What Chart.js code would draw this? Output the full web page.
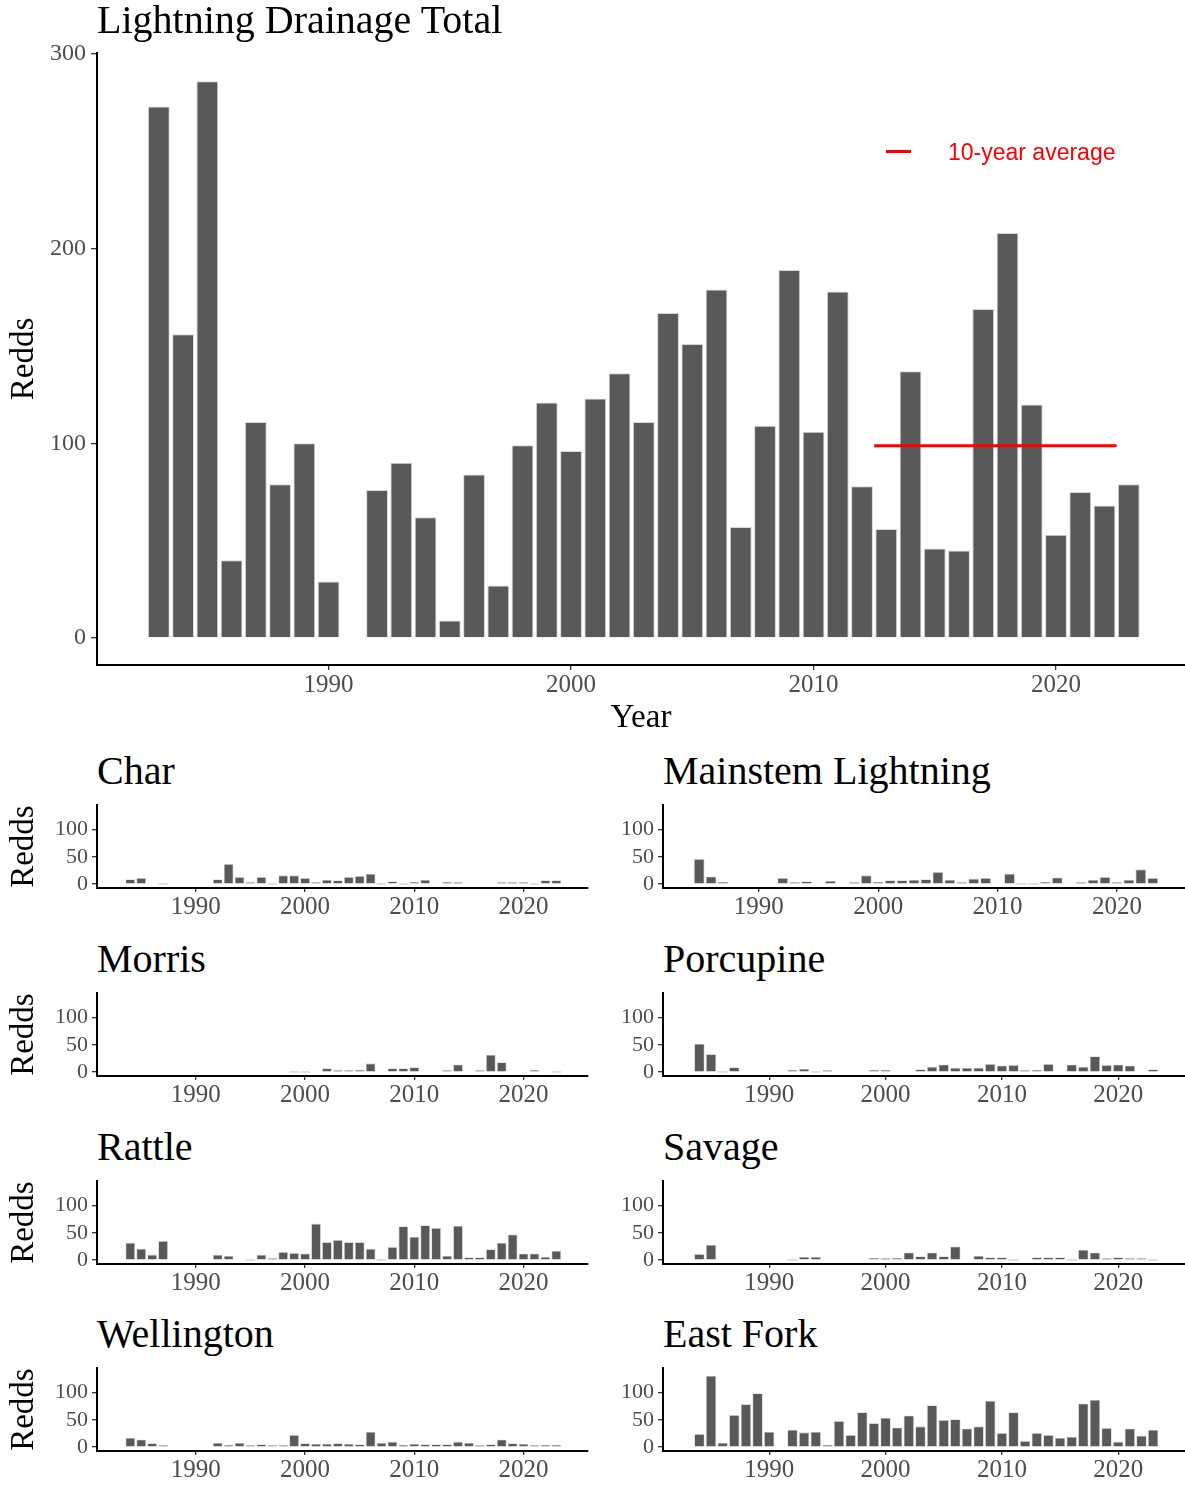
<!DOCTYPE html>
<html>
<head>
<meta charset="utf-8">
<title>Lightning Drainage Redds</title>
<script src="https://cdn.jsdelivr.net/npm/chart.js@4.4.0/dist/chart.umd.min.js"></script>
<style>
  body { margin: 0; background: #fff; }
  #page { position: relative; width: 1185px; height: 1485px; overflow: hidden; background: #fff; }
  canvas { position: absolute; }
  .title {
    position: absolute;
    font-family: 'Liberation Serif', 'Times New Roman', serif;
    font-size: 40px; line-height: 40px; height: 40px;
    color: #000; white-space: nowrap;
  }
  .legend-line { position: absolute; left: 886px; top: 150px; width: 25px; height: 3px; background: #ff0000; }
  .legend-text {
    position: absolute; left: 948px; top: 140.5px;
    font-family: 'Liberation Sans', Arial, sans-serif;
    font-size: 23px; line-height: 23px; color: #ff0000; white-space: nowrap;
  }
</style>
</head>
<body>
<div id="page">
  <canvas id="main" width="1185" height="740" style="left:0;top:0"></canvas>
  <div class="title" style="left:97px;top:0">Lightning Drainage Total</div>
  <div class="legend-line"></div>
  <div class="legend-text">10-year average</div>

  <div class="title" style="left:97px;top:750.5px">Char</div>
  <div class="title" style="left:663px;top:750.5px">Mainstem Lightning</div>
  <div class="title" style="left:97px;top:938.5px">Morris</div>
  <div class="title" style="left:663px;top:938.5px">Porcupine</div>
  <div class="title" style="left:97px;top:1126.5px">Rattle</div>
  <div class="title" style="left:663px;top:1126.5px">Savage</div>
  <div class="title" style="left:97px;top:1313.5px">Wellington</div>
  <div class="title" style="left:663px;top:1313.5px">East Fork</div>

  <canvas id="char" width="590" height="140" style="left:0;top:788px"></canvas>
  <canvas id="mainstem" width="585" height="140" style="left:600px;top:788px"></canvas>
  <canvas id="morris" width="590" height="140" style="left:0;top:976px"></canvas>
  <canvas id="porcupine" width="585" height="140" style="left:600px;top:976px"></canvas>
  <canvas id="rattle" width="590" height="140" style="left:0;top:1164px"></canvas>
  <canvas id="savage" width="585" height="140" style="left:600px;top:1164px"></canvas>
  <canvas id="wellington" width="590" height="140" style="left:0;top:1351px"></canvas>
  <canvas id="eastfork" width="585" height="140" style="left:600px;top:1351px"></canvas>
</div>
<script>
const years = [1983, 1984, 1985, 1986, 1987, 1988, 1989, 1990, 1991, 1992,
               1993, 1994, 1995, 1996, 1997, 1998, 1999, 2000, 2001, 2002,
               2003, 2004, 2005, 2006, 2007, 2008, 2009, 2010, 2011, 2012,
               2013, 2014, 2015, 2016, 2017, 2018, 2019, 2020, 2021, 2022, 2023];

const totalRedds = [273, 156, 286, 40, 111, 79, 100, 29, null, 76,
                    90, 62, 9, 84, 27, 99, 121, 96, 123, 136,
                    111, 167, 151, 179, 57, 109, 189, 106, 178, 78,
                    56, 137, 46, 45, 169, 208, 120, 53, 75, 68, 79];

const charRedds = [null, 9, 11, null, 0, null, null, null, null, 9,
                   37, 13, 2, 13, 0, 16, 16, 11, 2, 8,
                   7, 13, 15, 19, 0, 5, 0, 4, 8, null,
                   4, 2, null, null, null, 3, 2, 2, 0, 7, 7];

const mainstemRedds = [null, null, 46, 14, 4, null, null, null, null, 11,
                       2, 5, null, 6, null, 3, 16, 4, 7, 7,
                       8, 9, 22, 8, 3, 10, 11, null, 19, 0,
                       0, 4, 12, null, 3, 8, 13, 3, 8, 27, 11];

const morrisRedds = [null, null, null, null, null, null, null, null, null, null,
                     null, null, null, null, null, null, 0, 0, null, 7,
                     1, 1, 4, 16, null, 7, 7, 9, null, null,
                     3, 14, null, 3, 32, 18, null, null, 4, null, 0];

const porcupineRedds = [null, 52, 33, 0, 9, null, null, null, null, 4,
                        6, 0, 1, null, null, null, 4, 4, null, null,
                        5, 10, 14, 8, 8, 8, 15, 12, 13, 1,
                        4, 15, null, 14, 10, 29, 13, 14, 12, null, 5];

const rattleRedds = [null, 32, 21, 10, 35, null, null, null, null, 10,
                     8, null, 0, 10, 1, 15, 13, 12, 67, 33,
                     37, 33, 33, 21, 0, 24, 62, 43, 64, 59,
                     8, 63, 5, 5, 20, 32, 47, 12, 12, 6, 17];

const savageRedds = [null, 11, 28, null, null, null, null, null, null, 0,
                     6, 6, null, null, null, null, 4, 1, 4, 14,
                     7, 14, 7, 25, null, 8, 5, 5, 0, null,
                     5, 5, 5, 0, 19, 14, 3, 5, 3, 3, 0];

const wellingtonRedds = [null, 17, 14, 7, 1, null, null, null, null, 8,
                         4, 8, 1, 5, 1, 1, 22, 7, 6, 6,
                         7, 6, 5, 28, 8, 10, 4, 6, 5, 5,
                         5, 10, 8, 3, 5, 14, 7, 6, 1, 4, 4];

const eastForkRedds = [null, 24, 131, 8, 59, 79, 99, 28, null, 32,
                       27, 28, 4, 48, 22, 64, 44, 54, 36, 58,
                       38, 77, 50, 51, 34, 38, 85, 26, 64, 11,
                       26, 22, 17, 19, 80, 87, 35, 10, 34, 21, 32];

// 10-year average line (2013-2022)
const avgYears = [2012.5, 2022.5];
const avgRedds = [98.7, 98.7];

const yearTicks = [1990, 2000, 2010, 2020];
const totalTicks = [0, 100, 200, 300];
const panelTicks = [0, 50, 100];

const serif = "'Liberation Serif', 'Times New Roman', serif";
const barGrey = '#595959';
const zeroGrey = '#dedede';
const tickGrey = '#4d4d4d';

function toPoints(values) {
    return years.map((yr, i) => ({ x: yr, y: values[i] }));
}

function barColor(ctx) {
    return ctx.raw && ctx.raw.y === 0 ? zeroGrey : barGrey;
}

function axisLines(tickLength) {
    return {
        grid: { offset: false, drawOnChartArea: false, drawTicks: true, tickLength: tickLength,
                color: '#333333', lineWidth: 1.3 },
        border: { display: true, color: '#000000', width: 2 }
    };
}

// main chart
new Chart(document.getElementById('main'), {
    type: 'bar',
    data: {
        datasets: [
            {
                type: 'line',
                label: '10-year average',
                data: avgYears.map((yr, i) => ({ x: yr, y: avgRedds[i] })),
                borderColor: '#ff0000',
                borderWidth: 3,
                pointRadius: 0,
                order: 0
            },
            {
                label: 'Redds',
                data: toPoints(totalRedds),
                backgroundColor: barGrey,
                borderColor: '#d6d6d6',
                borderWidth: 1,
                barPercentage: 0.9,
                categoryPercentage: 1,
                order: 1
            }
        ]
    },
    options: {
        responsive: false,
        animation: false,
        layout: { padding: { top: 53, right: 0, bottom: 0, left: 0 } },
        plugins: { legend: { display: false }, tooltip: { enabled: false } },
        scales: {
            x: {
                type: 'linear',
                min: 1980.45,
                max: 2025.32,
                offset: false,
                afterBuildTicks: s => { s.ticks = yearTicks.map(v => ({ value: v })); },
                afterFit: s => { s.height = 75; },
                ticks: { autoSkip: false, maxRotation: 0, padding: 0, color: tickGrey,
                         font: { family: serif, size: 25 }, callback: v => String(v) },
                ...axisLines(5),
                title: { display: true, text: 'Year', color: '#000', font: { family: serif, size: 33 },
                         padding: { top: 0, bottom: 2 } }
            },
            y: {
                min: -13.87,
                max: 300.5,
                afterBuildTicks: s => { s.ticks = totalTicks.map(v => ({ value: v })); },
                afterFit: s => { s.width = 97; },
                ticks: { padding: 5, color: tickGrey, font: { family: serif, size: 24 },
                         callback: v => String(v) },
                ...axisLines(6),
                title: { display: true, text: 'Redds', color: '#000', font: { family: serif, size: 33 },
                         padding: { top: 5, bottom: 0 } }
            }
        }
    }
});

// tributary panels
const panels = [
    { id: 'char', values: charRedds, xMin: 1980.95, xMax: 2025.9, left: true },
    { id: 'mainstem', values: mainstemRedds, xMin: 1981.97, xMax: 2025.7, left: false },
    { id: 'morris', values: morrisRedds, xMin: 1980.95, xMax: 2025.9, left: true },
    { id: 'porcupine', values: porcupineRedds, xMin: 1980.87, xMax: 2025.74, left: false },
    { id: 'rattle', values: rattleRedds, xMin: 1980.95, xMax: 2025.9, left: true },
    { id: 'savage', values: savageRedds, xMin: 1980.87, xMax: 2025.74, left: false },
    { id: 'wellington', values: wellingtonRedds, xMin: 1980.95, xMax: 2025.9, left: true },
    { id: 'eastfork', values: eastForkRedds, xMin: 1980.87, xMax: 2025.74, left: false }
];

panels.forEach(p => {
    new Chart(document.getElementById(p.id), {
        type: 'bar',
        data: {
            datasets: [{
                label: 'Redds',
                data: toPoints(p.values),
                backgroundColor: barColor,
                borderColor: ctx => (ctx.raw && ctx.raw.y === 0 ? zeroGrey : '#d6d6d6'),
                borderWidth: 0.8,
                minBarLength: 2,
                barPercentage: 0.9,
                categoryPercentage: 1
            }]
        },
        options: {
            responsive: false,
            animation: false,
            layout: { padding: { top: 16, right: p.left ? 2 : 0, bottom: 0, left: 0 } },
            plugins: { legend: { display: false }, tooltip: { enabled: false } },
            scales: {
                x: {
                    type: 'linear',
                    min: p.xMin,
                    max: p.xMax,
                    offset: false,
                    afterBuildTicks: s => { s.ticks = yearTicks.map(v => ({ value: v })); },
                    afterFit: s => { s.height = 40; },
                    ticks: { autoSkip: false, maxRotation: 0, padding: 0, color: tickGrey,
                             font: { family: serif, size: 25 }, callback: v => String(v) },
                    ...axisLines(4)
                },
                y: {
                    min: -7.3,
                    max: 145,
                    afterBuildTicks: s => { s.ticks = panelTicks.map(v => ({ value: v })); },
                    afterFit: s => { s.width = p.left ? 97 : 63; },
                    ticks: { padding: 4, color: tickGrey, font: { family: serif, size: 22 },
                             callback: v => String(v) },
                    ...axisLines(5),
                    title: { display: p.left, text: 'Redds', color: '#000',
                             font: { family: serif, size: 33 }, padding: { top: 5, bottom: 0 } }
                }
            }
        }
    });
});
</script>
</body>
</html>
